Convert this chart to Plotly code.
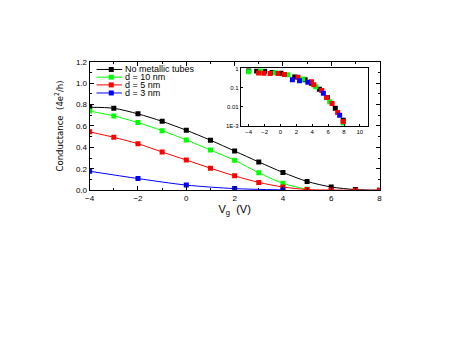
import plotly.graph_objects as go

# main panel: conductance vs gate voltage
vg = [-4, -3, -2, -1, 0, 1, 2, 3, 4, 5, 6, 7, 8]
g_none = [0.775, 0.765, 0.713, 0.643, 0.56, 0.467, 0.366, 0.264, 0.166, 0.082, 0.03, 0.006, 0.0]
vg_10 = [-4, -3, -2, -1, 0, 1, 2, 3, 4, 5]
g_10 = [0.739, 0.694, 0.632, 0.556, 0.47, 0.375, 0.279, 0.164, 0.064, 0.008]
vg_5 = [-4, -3, -2, -1, 0, 1, 2, 3, 4, 5, 6, 7, 8]
g_5 = [0.545, 0.494, 0.434, 0.357, 0.282, 0.206, 0.134, 0.073, 0.03, 0.006, 0.002, 0.0, 0.0]
vg_3 = [-4, -2, 0, 2, 4]
g_3 = [0.177, 0.109, 0.048, 0.015, 0.003]

# inset (log scale)
in_x_none = [-4, -3, -2, -1.05, 0.05, 1.8, 3.1, 3.9, 4.9, 5.9, 6.9, 7.9]
in_y_none = [0.79, 0.73, 0.72, 0.62, 0.56, 0.36, 0.26, 0.17, 0.083, 0.03, 0.0083, 0.002]
in_x_10 = [-4, -2.5, -0.66, 0.94, 2.8, 4.45, 6.2, 7.9]
in_y_10 = [0.68, 0.75, 0.6, 0.47, 0.28, 0.11, 0.018, 0.0014]
in_x_5 = [-2.76, -2.1, -1.3, -0.3, 0.5, 2.2, 3.9, 4.2, 5.2, 5.8, 6.5, 7.2, 7.9]
in_y_5 = [0.58, 0.57, 0.54, 0.55, 0.48, 0.35, 0.2, 0.14, 0.07, 0.03, 0.015, 0.005, 0.0017]
in_x_3 = [1.5, 2.4, 3.45, 5.4, 7.45]
in_y_3 = [0.26, 0.23, 0.19, 0.05, 0.0036]

names = ["No metallic tubes", "d = 10 nm", "d = 5 nm", "d = 3 nm"]
colors = ["#000000", "#00ff00", "#ff0000", "#0000ff"]

fig = go.Figure()
main = [(vg, g_none), (vg_10, g_10), (vg_5, g_5), (vg_3, g_3)]
for (x, y), nm, c in zip(main, names, colors):
    fig.add_trace(go.Scatter(x=x, y=y, name=nm, mode="lines+markers", showlegend=False,
                             line=dict(color=c, width=1, shape="spline", smoothing=0.8),
                             marker=dict(symbol="square", size=5, color=c),
                             xaxis="x", yaxis="y"))

inset = [(in_x_none, in_y_none), (in_x_10, in_y_10), (in_x_5, in_y_5), (in_x_3, in_y_3)]
for (x, y), nm, c in zip(inset, names, colors):
    fig.add_trace(go.Scatter(x=x, y=y, name=nm, mode="markers", showlegend=False,
                             marker=dict(symbol="square", size=5, color=c),
                             xaxis="x2", yaxis="y2"))

# hand-drawn legend (plotly's own legend rows are too tall for this spacing)
leg_y = [0.829, 0.806, 0.783, 0.759]
for nm, c, ly in zip(names, colors, leg_y):
    fig.add_shape(type="line", xref="paper", yref="paper", x0=0.1848, x1=0.2413, y0=ly, y1=ly,
                  line=dict(color=c, width=1))
    fig.add_shape(type="rect", xref="paper", yref="paper", xsizemode="pixel", ysizemode="pixel",
                  xanchor=0.2174, yanchor=ly, x0=-2.5, x1=2.5, y0=-2.5, y1=2.5,
                  fillcolor=c, line=dict(width=0))
    fig.add_annotation(text=nm, xref="paper", yref="paper", x=0.2457, y=ly,
                       xanchor="left", yanchor="middle", showarrow=False, borderpad=0,
                       font=dict(size=9, color="#000"))

axfont = dict(family="Liberation Sans, Arial", size=8, color="#000")
fig.update_layout(
    width=460, height=345,
    margin=dict(l=0, r=0, t=0, b=0),
    paper_bgcolor="white", plot_bgcolor="white",
    font=dict(family="Liberation Sans, Arial", color="#000"),
    xaxis=dict(domain=[0.1696, 0.811], range=[-4, 8], tickvals=[-4, -2, 0, 2, 4, 6, 8],
               showline=True, linecolor="#000", linewidth=1, mirror="ticks",
               ticks="inside", ticklen=4, tickcolor="#000", showgrid=False, zeroline=False,
               minor=dict(ticks="inside", ticklen=2, dtick=1, tickcolor="#000"),
               tickfont=axfont,
               title=dict(text="V<sub>g</sub>  (V)", font=dict(size=11), standoff=2),
               anchor="y"),
    yaxis=dict(domain=[0.4696, 0.852], range=[0, 1.2], tickvals=[0, 0.2, 0.4, 0.6, 0.8, 1.0, 1.2],
               tickformat=".1f",
               showline=True, linecolor="#000", linewidth=1, mirror="ticks",
               ticks="inside", ticklen=4, tickcolor="#000", showgrid=False, zeroline=False,
               minor=dict(ticks="inside", ticklen=2, dtick=0.1, tickcolor="#000"),
               tickfont=axfont,
               title=dict(text="Conductance  (4e<sup>2</sup>/h)",
                          font=dict(family="DejaVu Sans Condensed, Liberation Sans Narrow, Arial Narrow, Liberation Sans, sans-serif",
                                    size=9.5),
                          standoff=10),
               anchor="x"),
    xaxis2=dict(domain=[0.504, 0.785], range=[-5, 11], tickvals=[-4, -2, 0, 2, 4, 6, 8, 10],
                showline=True, linecolor="#000", linewidth=1, mirror=True,
                ticks="inside", ticklen=2, tickcolor="#000", showgrid=False, zeroline=False,
                tickfont=dict(size=6), anchor="y2"),
    yaxis2=dict(domain=[0.661, 0.832], type="log", range=[-3, 0],
                tickvals=[0.001, 0.01, 0.1, 1], ticktext=["1E-3", "0.01", "0.1", "1"],
                showline=True, linecolor="#000", linewidth=1, mirror=True,
                ticks="inside", ticklen=2, tickcolor="#000", showgrid=False, zeroline=False,
                tickfont=dict(size=6), anchor="x2"),
)

fig.write_html("out.html")
